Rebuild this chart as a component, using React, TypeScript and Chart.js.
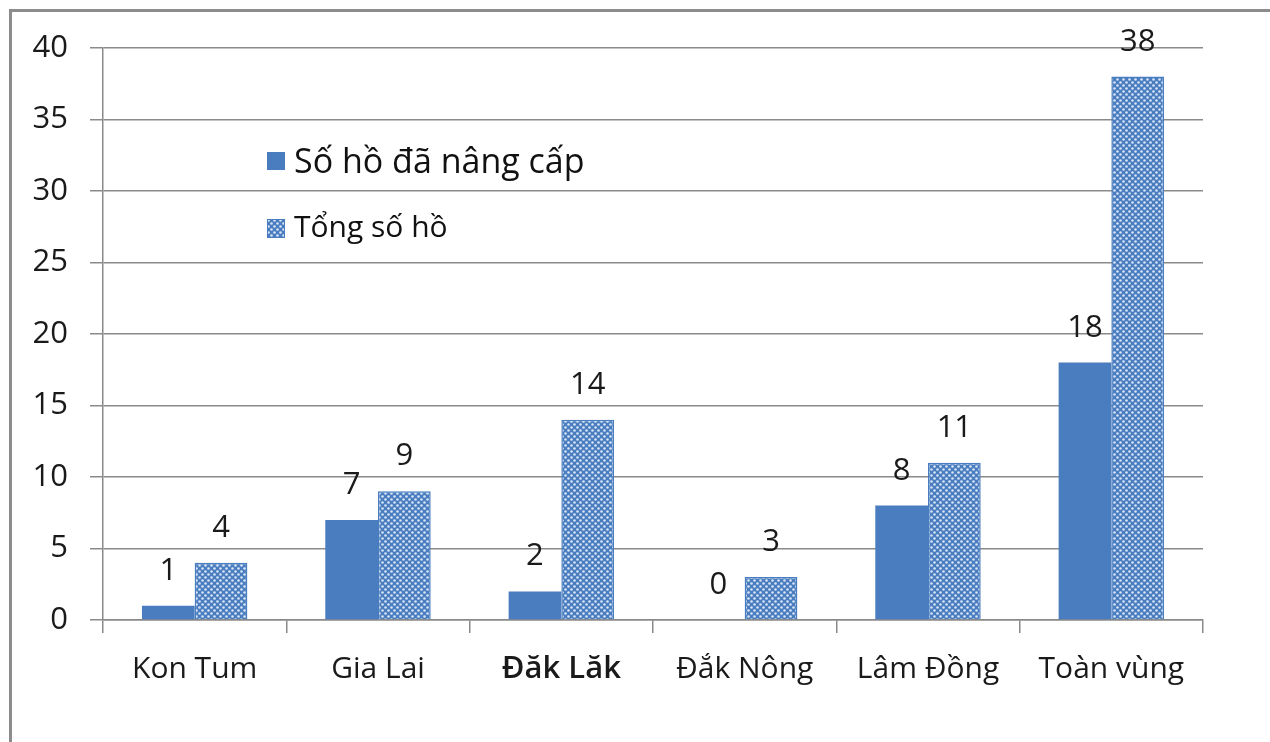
import React, { useEffect, useRef } from "react";
import { Chart, registerables } from "chart.js";

Chart.register(...registerables);

const categories = ["Kon Tum", "Gia Lai", "Đăk Lăk", "Đắk Nông", "Lâm Đồng", "Toàn vùng"];
const upgradedLakes = [1, 7, 2, 0, 8, 18];
const totalLakes = [4, 9, 14, 3, 11, 38];
const seriesNames = ["Số hồ đã nâng cấp", "Tổng số hồ"];
const yMin = 0;
const yMax = 40;
const yStep = 5;

const BLUE = "#4a7dbf";
const GRID = "#8a8a8a";
const FONT = "'Open Sans', sans-serif";

function makePattern(): CanvasPattern | string {
  const c = document.createElement("canvas");
  c.width = 6;
  c.height = 6;
  const g = c.getContext("2d");
  if (!g) return BLUE;
  g.fillStyle = BLUE;
  g.fillRect(0, 0, 6, 6);
  g.fillStyle = "#d6e4f6";
  g.beginPath();
  g.arc(1.5, 1.5, 1.3, 0, Math.PI * 2);
  g.fill();
  g.beginPath();
  g.arc(4.5, 4.5, 1.3, 0, Math.PI * 2);
  g.fill();
  const p = g.createPattern(c, "repeat");
  return p || BLUE;
}

export default function App() {
  const ref = useRef<HTMLCanvasElement | null>(null);

  useEffect(() => {
    if (!ref.current) return;
    const pattern = makePattern();

    const labelPlugin = {
      id: "valueLabels",
      afterDatasetsDraw(chart: any) {
        const ctx = chart.ctx;
        ctx.save();
        ctx.fillStyle = "#1a1a1a";
        ctx.font = "31px " + FONT;
        ctx.textAlign = "center";
        ctx.textBaseline = "alphabetic";
        chart.data.datasets.forEach((ds: any, i: number) => {
          const meta = chart.getDatasetMeta(i);
          meta.data.forEach((bar: any, j: number) => {
            ctx.fillText(String(ds.data[j]), bar.x, bar.y - 26);
          });
        });
        ctx.restore();
      },
    };

    const legendPlugin = {
      id: "innerLegend",
      afterDraw(chart: any) {
        const ctx = chart.ctx;
        const a = chart.chartArea;
        const x0 = a.left + 164;
        ctx.save();
        ctx.fillStyle = BLUE;
        ctx.fillRect(x0, 152, 18, 18);
        ctx.fillStyle = "#111";
        ctx.font = "34px " + FONT;
        ctx.textBaseline = "middle";
        ctx.textAlign = "left";
        ctx.fillText(seriesNames[0], x0 + 27, 163);
        ctx.fillStyle = pattern as any;
        ctx.fillRect(x0, 219, 18, 19);
        ctx.strokeStyle = BLUE;
        ctx.lineWidth = 1;
        ctx.strokeRect(x0 + 0.5, 219.5, 17, 18);
        ctx.fillStyle = "#111";
        ctx.font = "30px " + FONT;
        ctx.fillText(seriesNames[1], x0 + 27, 228);
        ctx.restore();
      },
    };

    const chart = new Chart(ref.current, {
      type: "bar",
      data: {
        labels: categories,
        datasets: [
          {
            label: seriesNames[0],
            data: upgradedLakes,
            backgroundColor: BLUE,
            borderWidth: 0,
            categoryPercentage: 0.575,
            barPercentage: 1,
          },
          {
            label: seriesNames[1],
            data: totalLakes,
            backgroundColor: pattern as any,
            borderColor: BLUE,
            borderWidth: 1.5,
            categoryPercentage: 0.575,
            barPercentage: 1,
          },
        ],
      },
      options: {
        responsive: false,
        animation: false,
        layout: { padding: { left: 0, top: 48, right: 67, bottom: 0 } },
        plugins: {
          legend: { display: false },
          tooltip: { enabled: false },
        },
        scales: {
          x: {
            offset: true,
            afterFit: (s: any) => {
              s.height = 122;
            },
            grid: {
              display: true,
              offset: true,
              drawOnChartArea: false,
              drawTicks: true,
              tickLength: 13,
              color: GRID,
              lineWidth: 1.5,
            },
            border: { display: true, color: GRID, width: 1.5 },
            ticks: {
              color: "#1a1a1a",
              padding: 18,
              font: (c: any) =>
                c.index === 2
                  ? { family: FONT, size: 31, weight: "600" }
                  : { family: FONT, size: 30 },
            },
          },
          y: {
            min: yMin,
            max: yMax,
            afterFit: (s: any) => {
              s.width = 103;
            },
            grid: {
              color: GRID,
              lineWidth: 1.5,
              tickLength: 13,
              drawTicks: true,
            },
            border: { display: true, color: GRID, width: 1.5 },
            ticks: {
              stepSize: yStep,
              color: "#1a1a1a",
              padding: 22,
              font: { family: FONT, size: 31 },
            },
          },
        },
      },
      plugins: [labelPlugin, legendPlugin],
    });

    return () => chart.destroy();
  }, []);

  return (
    <div style={{ position: "absolute", left: 0, top: 0, width: 1270, height: 742, background: "#fff", overflow: "hidden" }}>
      <canvas ref={ref} width={1270} height={742} style={{ position: "absolute", left: 0, top: 0 }} />
      <div
        style={{
          position: "absolute",
          left: 9,
          top: 9,
          width: 1300,
          height: 800,
          borderTop: "3px solid #8c8c8c",
          borderLeft: "3px solid #8c8c8c",
          pointerEvents: "none",
        }}
      />
    </div>
  );
}
